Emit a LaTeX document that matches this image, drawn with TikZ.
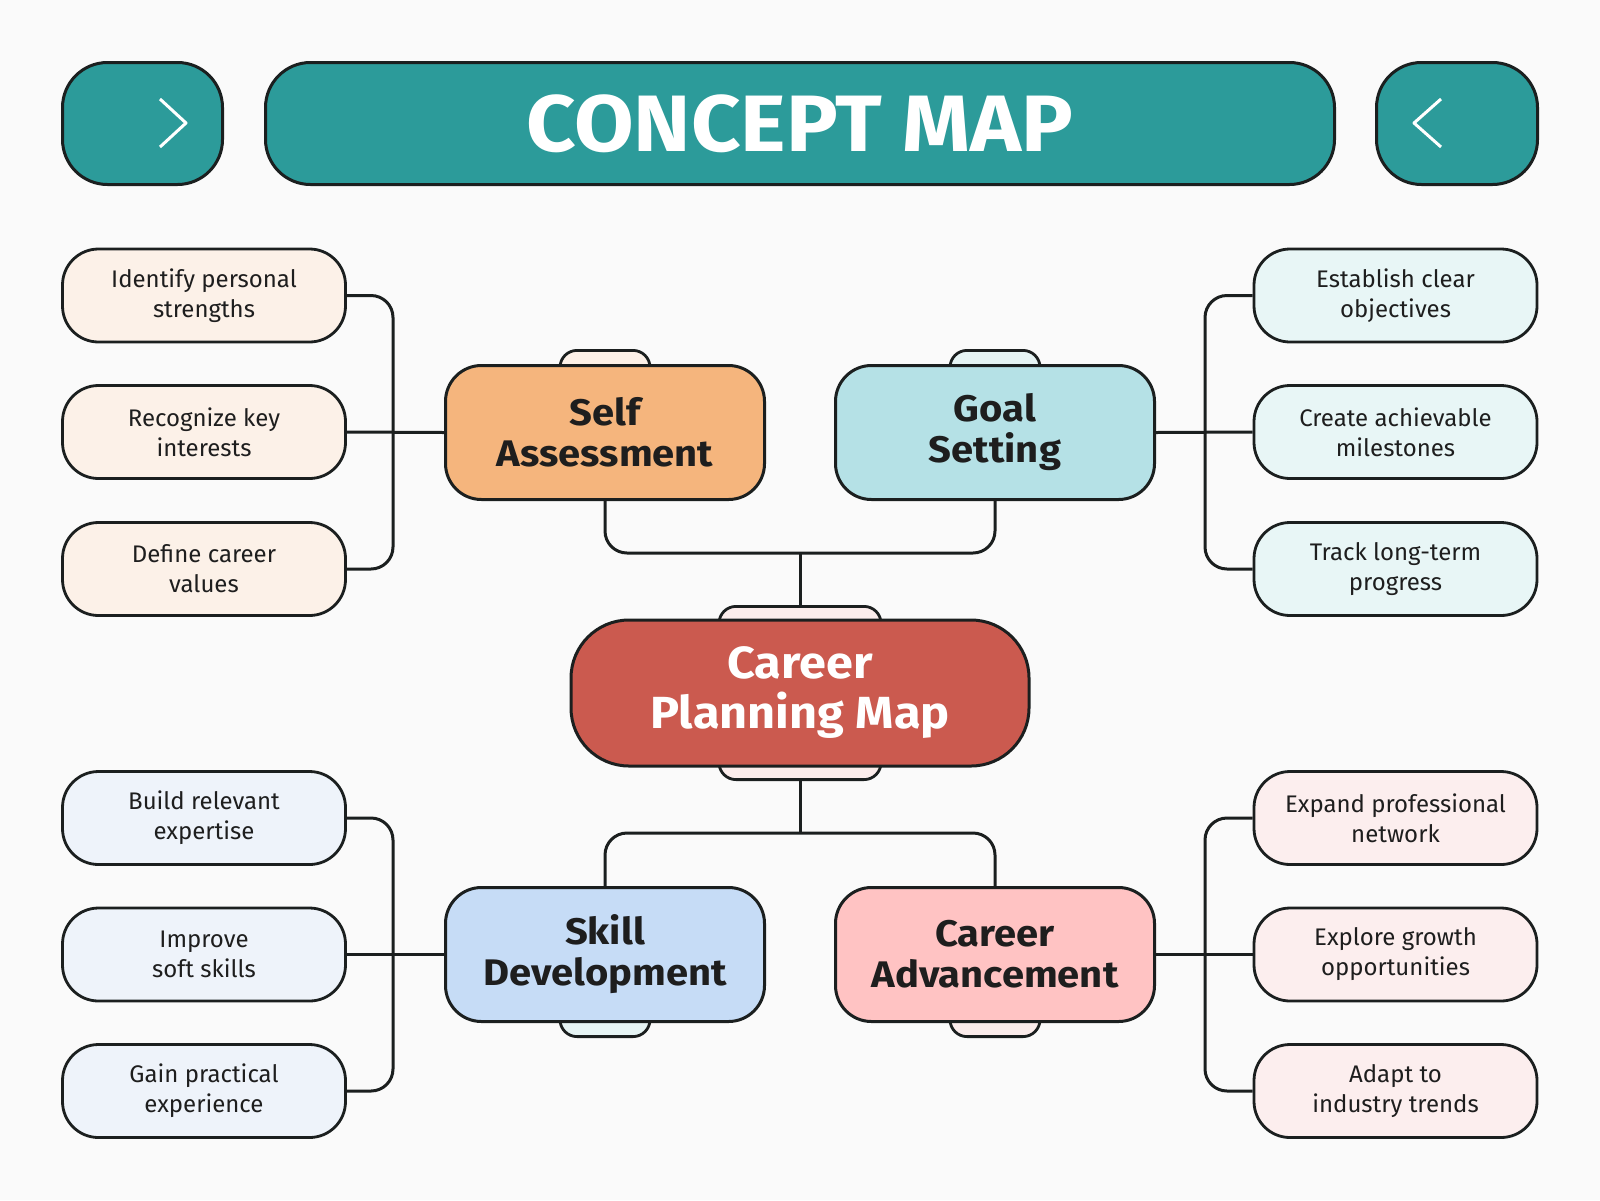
\documentclass[tikz,border=0pt]{standalone}
\usepackage{fontspec}
\setmainfont{Fira Sans}[BoldFeatures={FakeStretch=1.08}]
\definecolor{bgC}{HTML}{FAFAFA}
\definecolor{lineC}{HTML}{1B1F1F}
\definecolor{textC}{HTML}{1E1E1E}
\definecolor{tealC}{HTML}{2C9B9A}
\definecolor{selfC}{HTML}{F5B57D}
\definecolor{selfL}{HTML}{FCF1E8}
\definecolor{goalC}{HTML}{B5E1E6}
\definecolor{goalL}{HTML}{E8F6F6}
\definecolor{centC}{HTML}{CB5A4F}
\definecolor{centL}{HTML}{FBECEB}
\definecolor{skillC}{HTML}{C6DCF6}
\definecolor{skillL}{HTML}{EEF3FA}
\definecolor{advC}{HTML}{FFC3C3}
\definecolor{advL}{HTML}{FCEEEE}
\definecolor{cyanT}{HTML}{E6F4F4}
\begin{document}
\begin{tikzpicture}[x=1pt,y=-1pt,line join=round,
  navbox/.style={draw=lineC, line width=3pt, fill=tealC, rounded corners=45pt, minimum height=122pt, inner sep=0pt},
  leaf/.style={draw=lineC, line width=2.8pt, rounded corners=36pt, minimum width=283pt, minimum height=93pt, inner sep=0pt, align=center, text=textC, font=\fontsize{24}{30}\selectfont},
  cat/.style={draw=lineC, line width=3pt, rounded corners=36pt, minimum width=319pt, minimum height=134pt, inner sep=0pt, align=center, text=textC, font=\bfseries\fontsize{37}{41}\selectfont},
  tabbox/.style={draw=lineC, line width=2.8pt, rounded corners=17pt, inner sep=0pt},
  conn/.style={draw=lineC, line width=3pt, rounded corners=22pt},
  chev/.style={draw=white, line width=3pt}]
\useasboundingbox (0,0) rectangle (1600,1200);
\fill[bgC] (0,0) rectangle (1600,1200);

% header
\node[navbox, minimum width=160pt] (navL) at (142.5,123.5) {};
\node[navbox, minimum width=1069pt, text=white, font=\bfseries\fontsize{80}{90}\selectfont] (title) at (800,123.5) {CONCEPT MAP};
\node[navbox, minimum width=161pt] (navR) at (1457,123.5) {};
\draw[chev] (160,99) -- (186,123) -- (160,147);
\draw[chev] (1441,99) -- (1414,123) -- (1441,147);

% tabs behind
\node[tabbox, fill=selfL, minimum width=90pt, minimum height=40pt, anchor=north] (stab) at (605,349) {};
\node[tabbox, fill=cyanT, minimum width=90pt, minimum height=40pt, anchor=north] (gtab) at (995,349) {};
\node[tabbox, fill=cyanT, minimum width=90pt, minimum height=40pt, anchor=south] (ktab) at (605,1038) {};
\node[tabbox, fill=centL, minimum width=90pt, minimum height=40pt, anchor=south] (atab) at (995,1038) {};
\node[tabbox, fill=centL, minimum width=162pt, minimum height=60pt, anchor=north] (ctabT) at (800,605) {};
\node[tabbox, fill=centL, minimum width=162pt, minimum height=60pt, anchor=south] (ctabB) at (800,781) {};

% categories
\node[cat, fill=selfC] (self) at (605,432.5) {Self\\Assessment};
\node[cat, fill=goalC] (goal) at (995,432.5) {Goal\\Setting};
\node[cat, fill=skillC] (skill) at (605,954.5) {Skill\\Development};
\node[cat, fill=advC] (adv) at (995,954.5) {Career\\Advancement};

% center
\node[draw=lineC, line width=3pt, fill=centC, rounded corners=58pt, minimum width=458pt, minimum height=146pt, inner sep=0pt, align=center, text=white, font=\bfseries\fontsize{45}{50}\selectfont] (center) at (800,693) {Career\\Planning Map};

% leaves
\node[leaf, fill=selfL] (l1) at (204,295.5) {Identify personal\\strengths};
\node[leaf, fill=selfL] (l2) at (204,432) {Recognize key\\interests};
\node[leaf, fill=selfL] (l3) at (204,569) {Define career\\values};
\node[leaf, fill=goalL] (r1) at (1395.5,295.5) {Establish clear\\objectives};
\node[leaf, fill=goalL] (r2) at (1395.5,432) {Create achievable\\milestones};
\node[leaf, fill=goalL] (r3) at (1395.5,569) {Track long-term\\progress};
\node[leaf, fill=skillL] (l4) at (204,818) {Build relevant\\expertise};
\node[leaf, fill=skillL] (l5) at (204,954.5) {Improve\\soft skills};
\node[leaf, fill=skillL] (l6) at (204,1091) {Gain practical\\experience};
\node[leaf, fill=advL] (r4) at (1395.5,818) {Expand professional\\network};
\node[leaf, fill=advL] (r5) at (1395.5,954.5) {Explore growth\\opportunities};
\node[leaf, fill=advL] (r6) at (1395.5,1091) {Adapt to\\industry trends};

% junction coordinates
\coordinate (topjoin) at (800,553);
\coordinate (botjoin) at (800,833);
\coordinate (lbA) at (393,432);
\coordinate (rbA) at (1205,432);
\coordinate (lbB) at (393,954.5);
\coordinate (rbB) at (1205,954.5);

% connectors
\draw[conn] (self.south) |- (topjoin) -| (goal.south);
\draw[conn] (topjoin) -- (ctabT.north);
\draw[conn] (skill.north) |- (botjoin) -| (adv.north);
\draw[conn] (botjoin) -- (ctabB.south);

\draw[conn] (l1.east) -| (lbA) |- (l3.east);
\draw[conn] (l2.east) -- (self.west);
\draw[conn] (r1.west) -| (rbA) |- (r3.west);
\draw[conn] (r2.west) -- (goal.east);
\draw[conn] (l4.east) -| (lbB) |- (l6.east);
\draw[conn] (l5.east) -- (skill.west);
\draw[conn] (r4.west) -| (rbB) |- (r6.west);
\draw[conn] (r5.west) -- (adv.east);
\end{tikzpicture}
\end{document}
